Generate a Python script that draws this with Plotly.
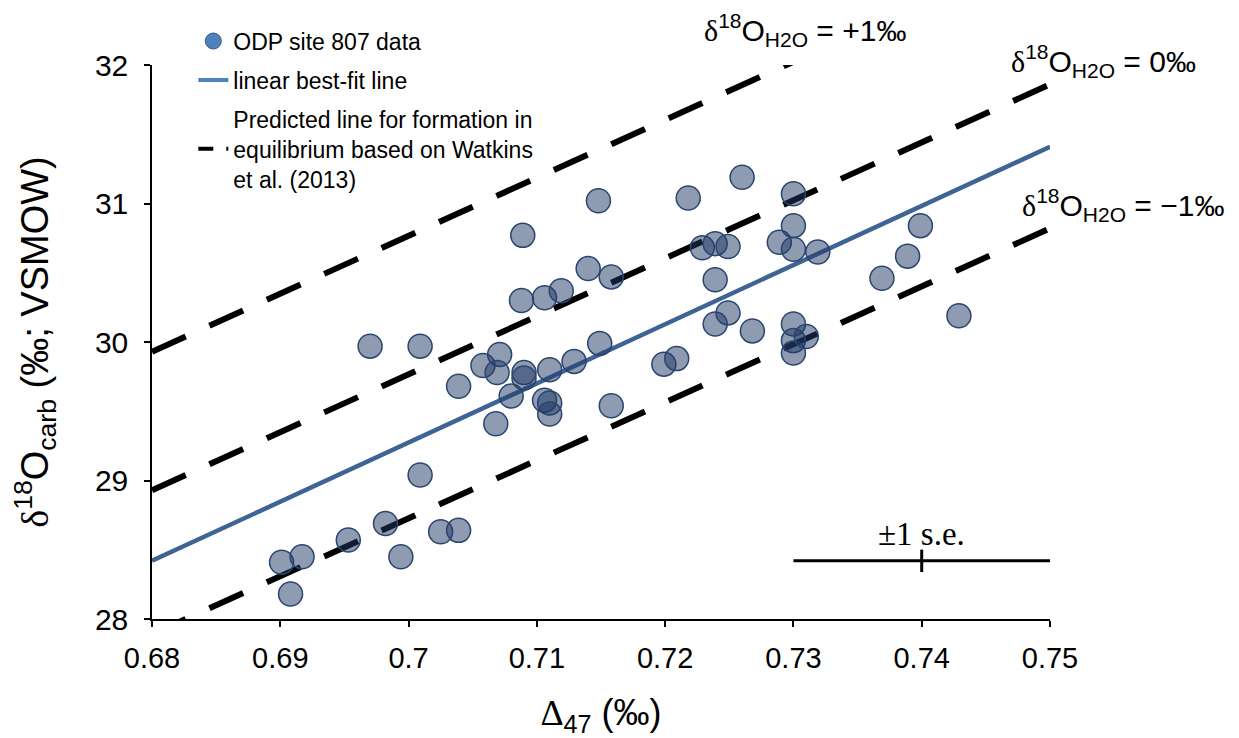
import plotly.graph_objects as go

# clumped isotope data, ODP site 807
d47 = [0.6901, 0.6908, 0.6917, 0.6953, 0.6982, 0.6994, 0.7009, 0.7025, 0.7039,
       0.6970, 0.7009, 0.7039, 0.7058, 0.7071, 0.7069, 0.7068, 0.7080, 0.7090,
       0.7090, 0.7088, 0.7089, 0.7106, 0.7119, 0.7110, 0.7106, 0.7110, 0.7110,
       0.7129, 0.7140, 0.7148, 0.7149, 0.7158, 0.7158, 0.7199, 0.7209, 0.7218,
       0.7229, 0.7239, 0.7249, 0.7239, 0.7239, 0.7249, 0.7268, 0.7260, 0.7289,
       0.7300, 0.7300, 0.7300, 0.7319, 0.7300, 0.7300, 0.7300, 0.7310, 0.7369,
       0.7389, 0.7399, 0.7429]
d18o = [28.41, 28.18, 28.45, 28.57, 28.69, 28.45, 29.04, 28.63, 28.64,
        29.97, 29.97, 29.68, 29.83, 29.91, 29.78, 29.41, 29.61, 29.78,
        29.74, 30.30, 30.77, 30.32, 30.37, 29.80, 29.58, 29.56, 29.48,
        29.86, 30.53, 31.02, 29.99, 30.47, 29.54, 29.84, 29.88, 31.04,
        30.68, 30.71, 30.69, 30.45, 30.13, 30.21, 30.08, 31.19, 30.72,
        31.07, 30.84, 30.67, 30.65, 30.13, 30.01, 29.92, 30.04, 30.46,
        30.62, 30.84, 30.19]

# best fit + Watkins et al. (2013) equilibrium lines
line_x = [0.68, 0.75]
fit_y = [28.42, 31.41]
eq_plus1 = [29.93, 32.86]
eq_zero = [28.93, 31.86]
eq_minus1 = [27.89, 30.82]

# +/- 1 s.e. bar
se_x = [0.74]
se_y = [28.42]
se_err = [0.01]

fig = go.Figure()

for eq in [eq_plus1, eq_zero, eq_minus1]:
    fig.add_trace(go.Scatter(x=line_x, y=eq, mode="lines", showlegend=False,
                             line=dict(color="black", width=6, dash="37px,26px")))
fig.add_trace(go.Scatter(x=line_x, y=fit_y, mode="lines", showlegend=False,
                         line=dict(color="#3E6496", width=4.5)))
fig.add_trace(go.Scatter(x=d47, y=d18o, mode="markers", showlegend=False,
                         marker=dict(size=24, color="rgba(31,56,100,0.5)",
                                     line=dict(color="#2A4670", width=1.5))))

# error bar
fig.add_trace(go.Scatter(x=se_x, y=se_y, mode="markers", showlegend=False,
                         marker=dict(symbol="line-ns", size=16, line=dict(color="black", width=3)),
                         error_x=dict(type="data", array=se_err, color="black", thickness=3, width=0)))

# legend entries
fig.add_trace(go.Scatter(x=[None], y=[None], mode="markers", name="ODP site 807 data",
                         legendgroup="a",
                         marker=dict(size=30, color="#4F81BD", line=dict(color="#385D8A", width=1))))
fig.add_trace(go.Scatter(x=[None], y=[None], mode="lines", name="linear best-fit line",
                         legendgroup="b", line=dict(color="#4F81BD", width=4)))
fig.add_trace(go.Scatter(x=[None], y=[None], mode="lines", legendgroup="c",
                         name="Predicted line for formation in<br>equilibrium based on Watkins<br>et al. (2013)",
                         line=dict(color="black", width=4, dash="15px,13px")))

serif = "<span style='font-family:Liberation Serif'>"
labels = [(0.7229, 1.064, "+1‰"), (0.7468, 1.008, "0‰")]
for lx, ly, lt in labels:
    fig.add_annotation(x=lx, y=ly, yref="paper", xanchor="left", yanchor="middle", showarrow=False,
                       text=serif + "δ</span><sup>18</sup>O<sub>H2O</sub> = " + lt,
                       font=dict(size=30, color="black", family="Liberation Sans"))
fig.add_annotation(x=0.7477, y=30.99, xanchor="left", yanchor="middle", showarrow=False,
                   text=serif + "δ</span><sup>18</sup>O<sub>H2O</sub> = −1‰",
                   font=dict(size=30, color="black", family="Liberation Sans"))

fig.add_annotation(x=0.74, y=28.47, yanchor="bottom", showarrow=False, text="±1 s.e.",
                   font=dict(size=33, color="black", family="Liberation Serif"))

fig.update_layout(
    width=1231, height=730,
    margin=dict(l=144, r=189, t=55, b=119),
    plot_bgcolor="white", paper_bgcolor="white",
    font=dict(family="Liberation Sans", color="black"),
    legend=dict(x=0.046, y=1.082, xanchor="left", yanchor="top", font=dict(size=23),
                bgcolor="rgba(0,0,0,0)", itemsizing="trace", traceorder="grouped",
                tracegroupgap=6),
)
fig.update_xaxes(range=[0.68, 0.75], dtick=0.01, tickformat="~g", showgrid=False, zeroline=False,
                 showline=True, linecolor="black", linewidth=1.5, ticks="outside", ticklen=6,
                 tickcolor="black", tickwidth=1.5, tickfont=dict(size=29), ticklabelstandoff=6,
                 title=dict(text=serif + "Δ</span><sub>47</sub> (‰)", font=dict(size=36), standoff=28))
fig.update_yaxes(range=[28, 32], dtick=1, showgrid=False, zeroline=False,
                 showline=True, linecolor="black", linewidth=1.5, ticks="outside", ticklen=6,
                 tickcolor="black", tickwidth=1.5, tickfont=dict(size=30), ticklabelstandoff=10,
                 title=dict(text=serif + "δ</span><sup>18</sup>O<sub>carb</sub> (‰; VSMOW)",
                            font=dict(size=38), standoff=36))

fig.write_html("out.html")
